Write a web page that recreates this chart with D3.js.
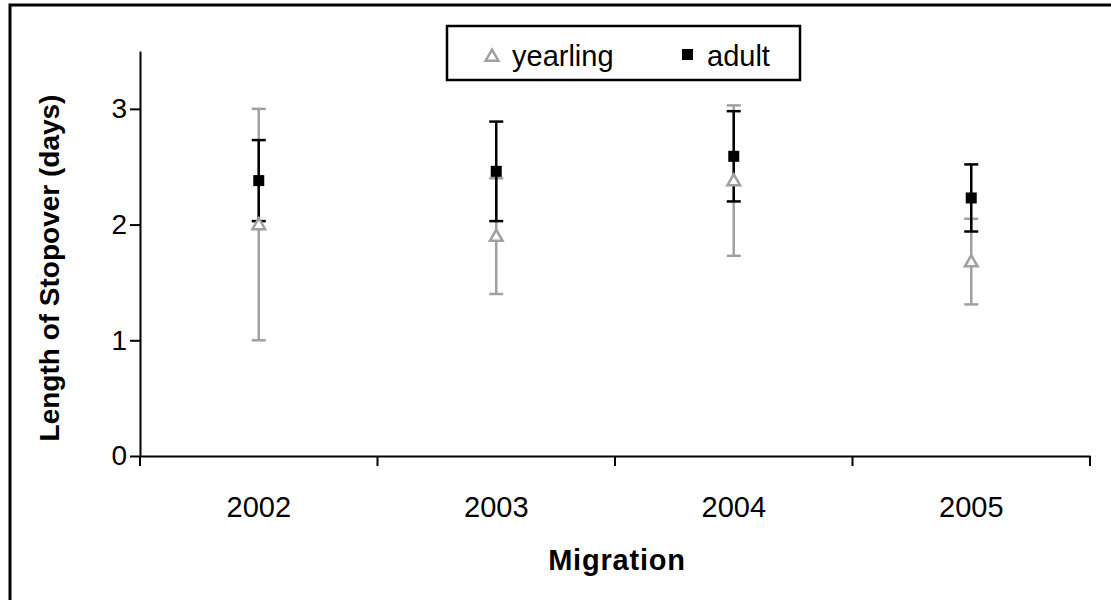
<!DOCTYPE html>
<html lang="en"><head>
<meta charset="utf-8">
<title>Stopover</title>
<script src="https://cdn.jsdelivr.net/npm/d3@7"></script>
<style>
  body { margin: 0; background: #fff; }
  text { font-family: "Liberation Sans", Arial, sans-serif; fill: #000; }
</style>
</head>
<body>
<script type="text/javascript">

var width = 1111;
var height = 600;

// data
var years = ["2002", "2003", "2004", "2005"];
var yearlingMean = [2.00, 1.90, 2.38, 1.68];
var yearlingErr  = [1.00, 0.50, 0.65, 0.37];
var adultMean    = [2.38, 2.46, 2.59, 2.23];
var adultErr     = [0.35, 0.43, 0.39, 0.29];
var yTicks = [0, 1, 2, 3];

var grey = "#a0a0a0";

var svg = d3.select("body").append("svg")
    .attr("width", width)
    .attr("height", height);

// outer frame
svg.append("rect")
    .attr("x", 10).attr("y", 5)
    .attr("width", 1200).attr("height", 700)
    .attr("fill", "#fff")
    .attr("stroke", "#000")
    .attr("stroke-width", 3);

var x = d3.scaleBand().domain(years).range([140, 1090]);
var y = d3.scaleLinear().domain([0, 3.5]).range([456, 51]);

// y axis
var gy = svg.append("g")
    .attr("transform", "translate(140,0)")
    .call(d3.axisLeft(y).tickValues(yTicks).tickFormat(d3.format("d"))
        .tickSize(10).tickSizeOuter(0).tickPadding(3));
gy.select(".domain").attr("stroke-width", 2);
gy.selectAll(".tick line").attr("stroke-width", 2);
gy.selectAll(".tick text").attr("font-size", 28).attr("font-family", null);

// x axis (labels at centres, ticks on band boundaries)
var gx = svg.append("g")
    .attr("transform", "translate(0,456)")
    .call(d3.axisBottom(x).tickSize(0).tickSizeOuter(0));
gx.select(".domain").attr("stroke-width", 2);
gx.selectAll(".tick text").attr("font-size", 29).attr("font-family", null).attr("y", 40);

var bounds = years.map(function(d) { return x(d); }).concat([x.range()[1]]);
gx.selectAll(".bound")
    .data(bounds)
    .enter().append("line")
    .attr("class", "bound")
    .attr("x1", function(d) { return d; })
    .attr("x2", function(d) { return d; })
    .attr("y1", 0).attr("y2", 10)
    .attr("stroke", "#000")
    .attr("stroke-width", 2);

// titles
svg.append("text")
    .attr("transform", "translate(59,268) rotate(-90)")
    .attr("text-anchor", "middle")
    .attr("font-size", 28)
    .attr("font-weight", "bold")
    .text("Length of Stopover (days)");

svg.append("text")
    .attr("x", 617).attr("y", 570)
    .attr("text-anchor", "middle")
    .attr("font-size", 29)
    .attr("font-weight", "bold")
    .attr("letter-spacing", 0.8)
    .text("Migration");

// error bars
function errorBars(mean, err, colour) {
    var rows = years.map(function(d, i) { return {year: d, m: mean[i], e: err[i]}; });
    var g = svg.append("g");
    var cx = function(d) { return x(d.year) + x.bandwidth() / 2; };
    g.selectAll(".v").data(rows).enter().append("line")
        .attr("x1", cx).attr("x2", cx)
        .attr("y1", function(d) { return y(d.m - d.e); })
        .attr("y2", function(d) { return y(d.m + d.e); })
        .attr("stroke", colour).attr("stroke-width", 2.5);
    [-1, 1].forEach(function(s) {
        g.selectAll(".c" + s).data(rows).enter().append("line")
            .attr("x1", function(d) { return cx(d) - 7; })
            .attr("x2", function(d) { return cx(d) + 7; })
            .attr("y1", function(d) { return y(d.m + s * d.e); })
            .attr("y2", function(d) { return y(d.m + s * d.e); })
            .attr("stroke", colour).attr("stroke-width", 2.5);
    });
}
errorBars(yearlingMean, yearlingErr, grey);
errorBars(adultMean, adultErr, "#000");

var tri = d3.symbol().type(d3.symbolTriangle).size(70);

svg.selectAll(".yearling")
    .data(yearlingMean)
    .enter().append("path")
    .attr("class", "yearling")
    .attr("d", tri)
    .attr("transform", function(d, i) {
        return "translate(" + (x(years[i]) + x.bandwidth() / 2) + "," + (y(d) + 1) + ")";
    })
    .attr("fill", "#fff")
    .attr("stroke", grey)
    .attr("stroke-width", 2.5);

svg.selectAll(".adult")
    .data(adultMean)
    .enter().append("rect")
    .attr("class", "adult")
    .attr("x", function(d, i) { return x(years[i]) + x.bandwidth() / 2 - 5.5; })
    .attr("y", function(d) { return y(d) - 5.5; })
    .attr("width", 11).attr("height", 11)
    .attr("fill", "#000");

// legend
var lg = svg.append("g");
lg.append("rect")
    .attr("x", 447).attr("y", 26)
    .attr("width", 353).attr("height", 54)
    .attr("fill", "#fff")
    .attr("stroke", "#000")
    .attr("stroke-width", 2.5);
lg.append("path")
    .attr("d", tri)
    .attr("transform", "translate(492,57)")
    .attr("fill", "#fff")
    .attr("stroke", grey)
    .attr("stroke-width", 2.5);
lg.append("text")
    .attr("x", 512).attr("y", 66)
    .attr("font-size", 29)
    .text("yearling");
lg.append("rect")
    .attr("x", 682).attr("y", 49)
    .attr("width", 11).attr("height", 11)
    .attr("fill", "#000");
lg.append("text")
    .attr("x", 707).attr("y", 66)
    .attr("font-size", 29)
    .text("adult");

</script>
</body></html>
